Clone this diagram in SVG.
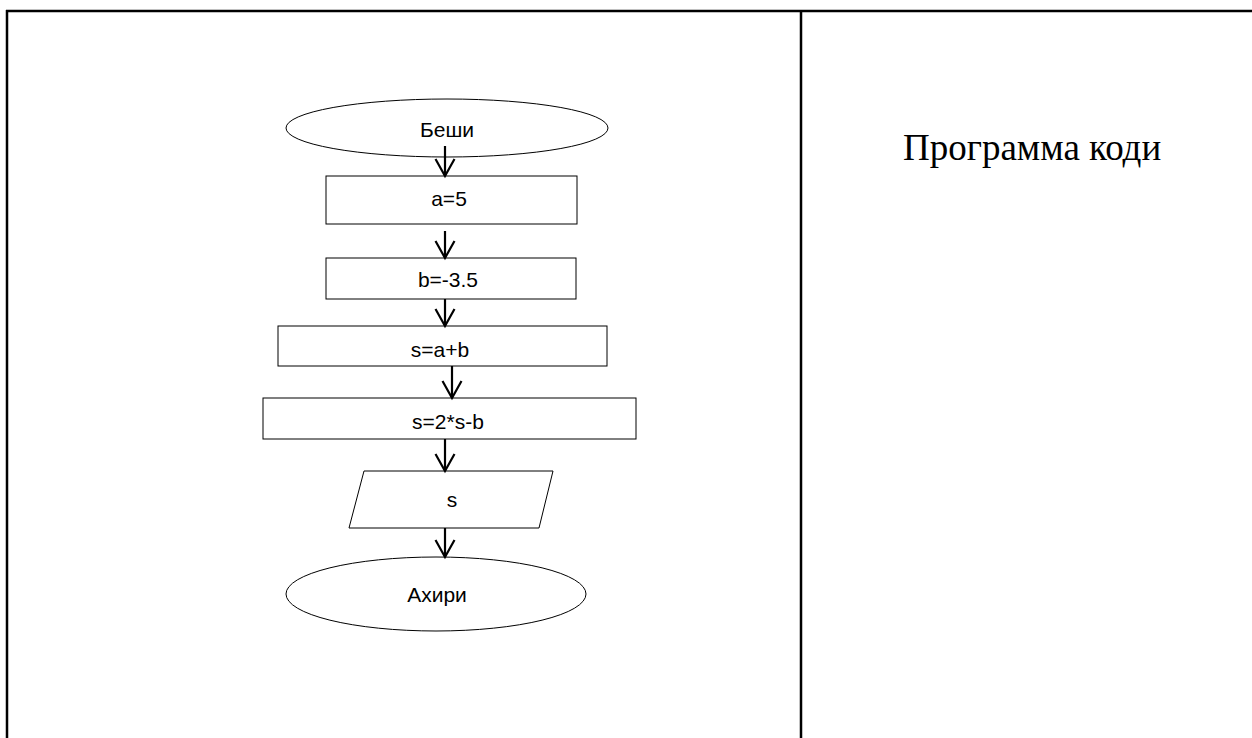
<svg xmlns="http://www.w3.org/2000/svg" width="1252" height="738" viewBox="0 0 1252 738">
<defs>
<style>
.b{fill:#fff;stroke:#000;stroke-width:1}
.t{font-family:"Liberation Sans",Arial,sans-serif;font-size:21px;fill:#000;text-anchor:middle}
.c{stroke:#000;stroke-width:2.2;fill:none}
.g{stroke:#000;stroke-width:2.5;fill:none}
</style>
<marker id="ah" markerWidth="24" markerHeight="24" viewBox="-20 -12 22 24" refX="0" refY="0" markerUnits="userSpaceOnUse" orient="auto">
<path d="M-17,-9.5 L0,0 L-17,9.5" fill="none" stroke="#000" stroke-width="2.2"/>
</marker>
</defs>
<rect width="1252" height="738" fill="#fff"/>
<g id="table">
<line class="g" x1="6" y1="11" x2="1252" y2="11"/>
<line class="g" x1="7" y1="10" x2="7" y2="738"/>
<line class="g" x1="801" y1="10" x2="801" y2="738"/>
</g>
<g id="title"><text x="903" y="160" font-family="'Liberation Serif','Times New Roman',serif" font-size="37" fill="#000">Программа коди</text></g>
<g id="start"><ellipse class="b" cx="447" cy="128" rx="161" ry="29"/><text class="t" x="447" y="137">Беши</text></g>
<g id="n1"><rect class="b" x="326" y="176" width="251" height="48"/><text class="t" x="449" y="206">a=5</text></g>
<g id="n2"><rect class="b" x="326" y="258" width="250" height="41"/><text class="t" x="448" y="287">b=-3.5</text></g>
<g id="n3"><rect class="b" x="278" y="326" width="329" height="40"/><text class="t" x="440" y="357">s=a+b</text></g>
<g id="n4"><rect class="b" x="263" y="398" width="373" height="41"/><text class="t" x="448" y="429">s=2*s-b</text></g>
<g id="out"><polygon class="b" points="364,471 553,471 539,528 349,528"/><text class="t" x="452" y="507">s</text></g>
<g id="end"><ellipse class="b" cx="436" cy="594" rx="150" ry="37"/><text class="t" x="437" y="602">Ахири</text></g>
<g id="connectors">
<line class="c" x1="445" y1="146" x2="445" y2="176" marker-end="url(#ah)"/>
<line class="c" x1="445" y1="231" x2="445" y2="258" marker-end="url(#ah)"/>
<line class="c" x1="445" y1="299" x2="445" y2="326" marker-end="url(#ah)"/>
<line class="c" x1="452" y1="366" x2="452" y2="398" marker-end="url(#ah)"/>
<line class="c" x1="445" y1="439" x2="445" y2="471" marker-end="url(#ah)"/>
<line class="c" x1="445" y1="528" x2="445" y2="557" marker-end="url(#ah)"/>
</g>
</svg>
